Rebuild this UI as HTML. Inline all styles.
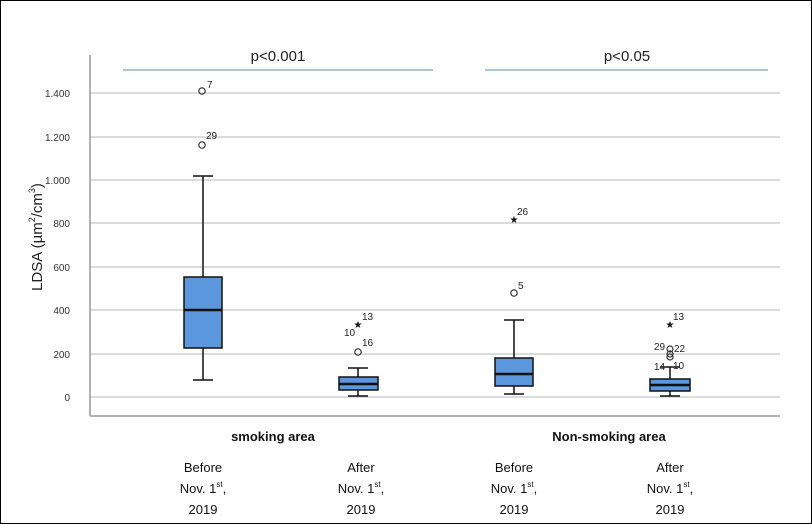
<!DOCTYPE html>
<html><head><style>
body{margin:0;background:#fff}
svg{display:block}
text{font-family:"Liberation Sans",sans-serif}
</style></head><body>
<svg width="812" height="524" viewBox="0 0 812 524">
<rect x="0.5" y="0.5" width="811" height="523" fill="#fff" stroke="#000"/>
<g stroke="#d0d0d0" stroke-width="1.5">
<line x1="90" x2="780" y1="397" y2="397"/>
<line x1="90" x2="780" y1="354" y2="354"/>
<line x1="90" x2="780" y1="310" y2="310"/>
<line x1="90" x2="780" y1="267" y2="267"/>
<line x1="90" x2="780" y1="223" y2="223"/>
<line x1="90" x2="780" y1="180" y2="180"/>
<line x1="90" x2="780" y1="137" y2="137"/>
<line x1="90" x2="780" y1="93" y2="93"/>
</g>
<line x1="90" y1="55" x2="90" y2="416" stroke="#999" stroke-width="1.5"/>
<line x1="90" y1="416" x2="780" y2="416" stroke="#999" stroke-width="1.5"/>
<g font-size="10" fill="#333" text-anchor="end">
<text x="70" y="401">0</text><text x="70" y="358">200</text><text x="70" y="314">400</text>
<text x="70" y="271">600</text><text x="70" y="227">800</text><text x="70" y="184">1.000</text>
<text x="70" y="141">1.200</text><text x="70" y="97">1.400</text>
</g>
<text transform="translate(42,237) rotate(-90)" font-size="15" text-anchor="middle" fill="#222">LDSA (µm<tspan font-size="9" dy="-7">2</tspan><tspan dy="7">/cm</tspan><tspan font-size="9" dy="-7">3</tspan><tspan dy="7">)</tspan></text>
<line x1="123" x2="433" y1="70" y2="70" stroke="#8fb0c8" stroke-width="1.5"/>
<line x1="485" x2="768" y1="70" y2="70" stroke="#8fb0c8" stroke-width="1.5"/>
<text x="278" y="61" font-size="15" text-anchor="middle" fill="#222">p&lt;0.001</text>
<text x="627" y="61" font-size="15" text-anchor="middle" fill="#222">p&lt;0.05</text>
<g stroke="#111" stroke-width="1.5" fill="#5b97dc">
<line x1="203" x2="203" y1="380" y2="348"/><line x1="203" x2="203" y1="277" y2="176"/>
<line x1="193" x2="213" y1="380" y2="380"/><line x1="193" x2="213" y1="176" y2="176"/>
<rect x="184" y="277" width="38" height="71"/><line x1="184" x2="222" y1="310" y2="310" stroke-width="2.5"/>
<line x1="358" x2="358" y1="396" y2="390"/><line x1="358" x2="358" y1="377" y2="368"/>
<line x1="348" x2="368" y1="396" y2="396"/><line x1="348" x2="368" y1="368" y2="368"/>
<rect x="339" y="377" width="39" height="13"/><line x1="339" x2="378" y1="384" y2="384" stroke-width="2.5"/>
<line x1="514" x2="514" y1="394" y2="386"/><line x1="514" x2="514" y1="358" y2="320"/>
<line x1="504" x2="524" y1="394" y2="394"/><line x1="504" x2="524" y1="320" y2="320"/>
<rect x="495" y="358" width="38" height="28"/><line x1="495" x2="533" y1="374" y2="374" stroke-width="2.5"/>
<line x1="670" x2="670" y1="396" y2="391"/><line x1="670" x2="670" y1="379" y2="367"/>
<line x1="660" x2="680" y1="396" y2="396"/><line x1="660" x2="680" y1="367" y2="367"/>
<rect x="650" y="379" width="40" height="12"/><line x1="650" x2="690" y1="385" y2="385" stroke-width="2.5"/>
</g>
<g fill="none" stroke="#333" stroke-width="1.2">
<circle cx="202" cy="91" r="3.2"/><circle cx="202" cy="145" r="3.2"/>
<circle cx="358" cy="352" r="3.2"/><circle cx="514" cy="293" r="3.2"/>
<circle cx="670" cy="349" r="3"/><circle cx="670" cy="354" r="3"/><circle cx="670" cy="357" r="3"/>
</g>
<g font-size="10" fill="#111">
<text x="358" y="328" text-anchor="middle">★</text>
<text x="514" y="223" text-anchor="middle">★</text>
<text x="670" y="328" text-anchor="middle">★</text>
</g>
<g font-size="10" fill="#222">
<text x="207" y="88">7</text><text x="206" y="139">29</text>
<text x="362" y="320">13</text><text x="344" y="336">10</text><text x="362" y="346">16</text>
<text x="517" y="215">26</text><text x="518" y="289">5</text>
<text x="673" y="320">13</text><text x="654" y="350">29</text><text x="674" y="352">22</text>
<text x="654" y="370">14</text><text x="673" y="369">10</text>
</g>
<g font-size="13" font-weight="bold" fill="#111" text-anchor="middle">
<text x="273" y="441">smoking area</text><text x="609" y="441">Non-smoking area</text>
</g>
<g font-size="13" fill="#111" text-anchor="middle">
<text x="203" y="472">Before</text><text x="203" y="493">Nov. 1<tspan font-size="8" dy="-6">st</tspan><tspan dy="6">,</tspan></text><text x="203" y="514">2019</text>
<text x="361" y="472">After</text><text x="361" y="493">Nov. 1<tspan font-size="8" dy="-6">st</tspan><tspan dy="6">,</tspan></text><text x="361" y="514">2019</text>
<text x="514" y="472">Before</text><text x="514" y="493">Nov. 1<tspan font-size="8" dy="-6">st</tspan><tspan dy="6">,</tspan></text><text x="514" y="514">2019</text>
<text x="670" y="472">After</text><text x="670" y="493">Nov. 1<tspan font-size="8" dy="-6">st</tspan><tspan dy="6">,</tspan></text><text x="670" y="514">2019</text>
</g>
</svg>
</body></html>
